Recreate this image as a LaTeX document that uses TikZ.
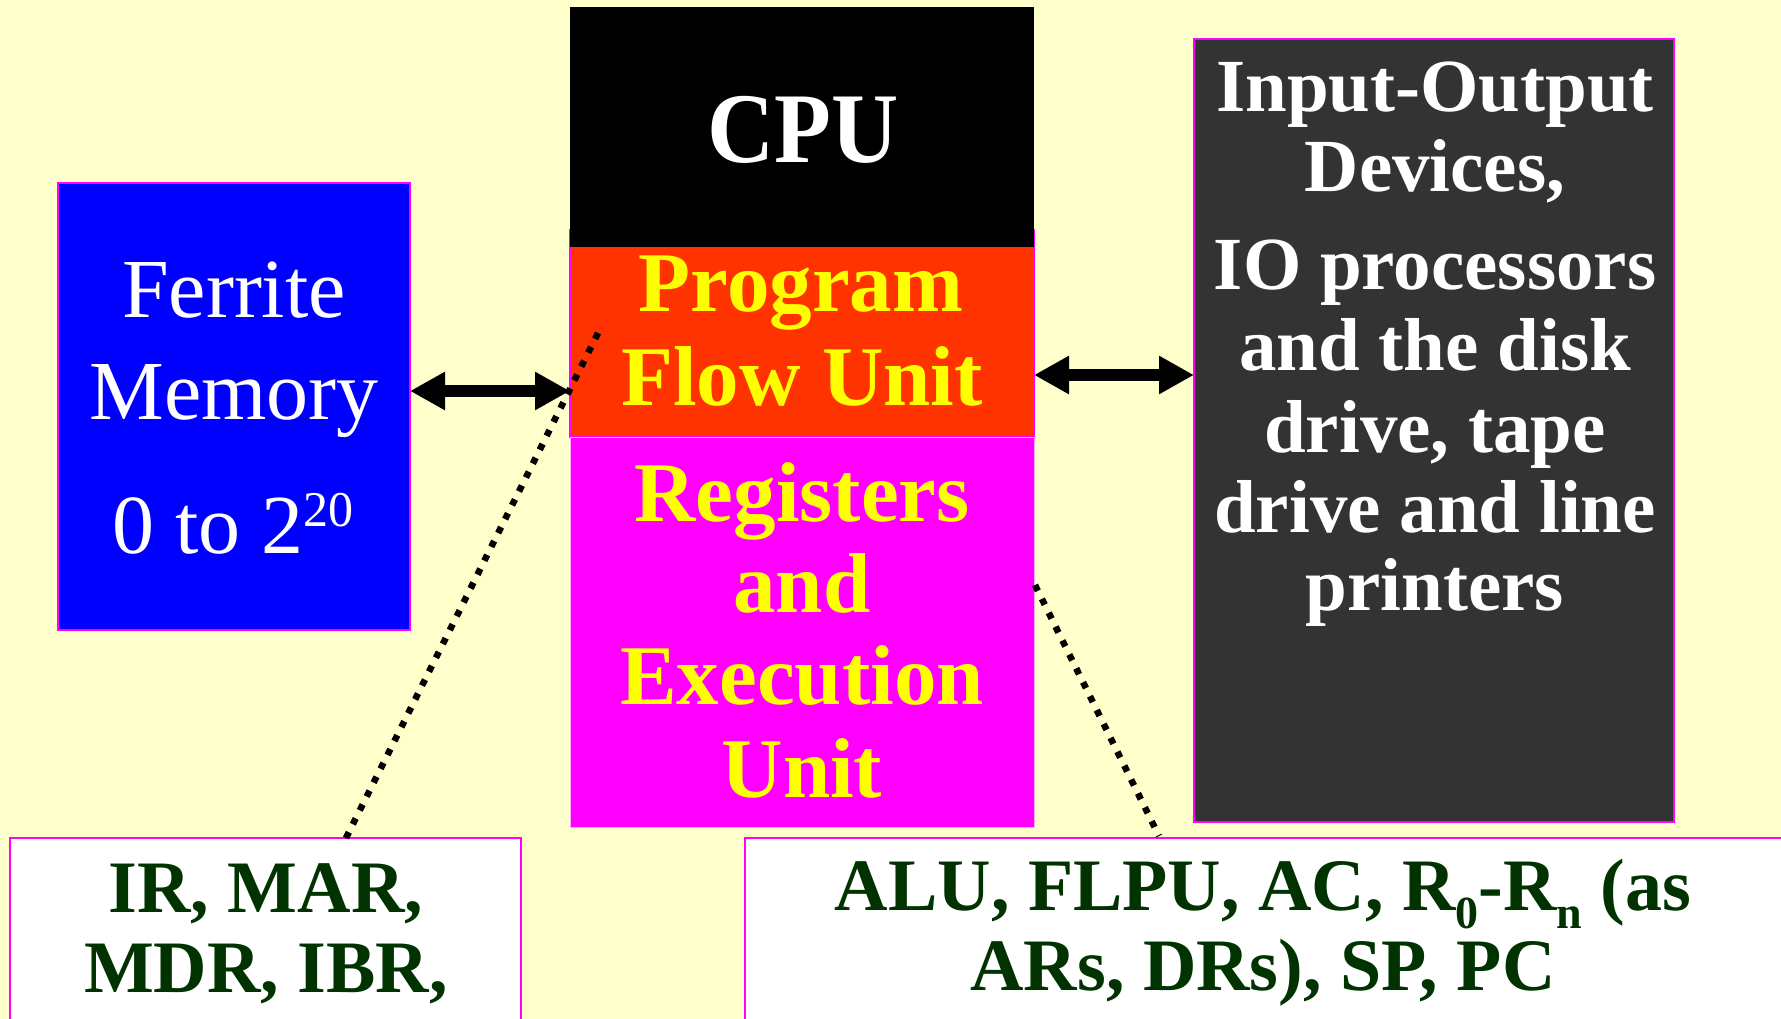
\documentclass[tikz,border=0pt]{standalone}
\usepackage{fontspec}
\setmainfont{Liberation Serif}
\newfontfamily\cpufont[FakeStretch=0.93]{Liberation Serif}
\usetikzlibrary{arrows.meta}
\definecolor{bgc}{HTML}{FFFFCC}
\definecolor{memblue}{HTML}{0000FF}
\definecolor{pfuorange}{HTML}{FF3300}
\definecolor{magent}{HTML}{FF00FF}
\definecolor{iogray}{HTML}{333333}
\definecolor{txtyellow}{HTML}{FFFF00}
\definecolor{dkgreen}{HTML}{003300}
\definecolor{lightpink}{HTML}{FFAAFF}
\newcommand\mysub[1]{\smash{\raisebox{-18pt}{\fontsize{46}{46}\selectfont #1}}}
\newcommand\mysup[1]{\raisebox{27pt}{\fontsize{50}{50}\selectfont #1}}
\begin{document}
\begin{tikzpicture}[x=1pt,y=-1pt,
  box/.style={rectangle, inner sep=0pt, outer sep=0pt},
  lbl/.style={anchor=base, inner sep=0pt, outer sep=0pt},
  memtxt/.style={lbl, text=white, font=\fontsize{84}{90}\selectfont},
  cputxt/.style={lbl, text=white, font=\cpufont\bfseries\fontsize{100}{100}\selectfont},
  unittxt/.style={lbl, text=txtyellow, font=\bfseries\fontsize{85}{90}\selectfont},
  iotxt/.style={lbl, text=white, font=\bfseries\fontsize{75}{80}\selectfont},
  regtxt/.style={lbl, text=dkgreen, font=\bfseries\fontsize{74}{80}\selectfont},
  biarrow/.style={line width=12pt, {Triangle[length=35pt,width=36pt]}-{Triangle[length=35pt,width=36pt]}},
  dotline/.style={line width=6.5pt, dash pattern=on 6.5pt off 9pt}
]
\clip (0,0) rectangle (1781,1019);
\fill[bgc] (0,0) rectangle (1781,1019);

% boxes
\node[box, fill=memblue, draw=magent, line width=2.5pt, minimum width=352pt, minimum height=447pt] (mem) at (234,406.5) {};
\node[box, fill=pfuorange, draw=magent, line width=1.5pt, minimum width=464pt, minimum height=207pt] (pfu) at (802,333.5) {};
\node[box, fill=magent, draw=lightpink, line width=1pt, minimum width=464pt, minimum height=390pt] (reu) at (802,632) {};
\node[box, fill=black, minimum width=464pt, minimum height=240pt] (cpu) at (802,127) {};
\node[box, fill=iogray, draw=magent, line width=2.5pt, minimum width=480pt, minimum height=783pt] (io) at (1434,430.5) {};
\node[box, fill=white, draw=magent, line width=2pt, minimum width=511pt, minimum height=202pt] (regl) at (265.5,939) {};
\node[box, fill=white, draw=magent, line width=2pt, minimum width=1055pt, minimum height=202pt] (regr) at (1272.5,939) {};

% texts
\node[cputxt] (tcpu) at (803,163) {CPU};
\node[memtxt] (tm1) at (234,317) {Ferrite};
\node[memtxt] (tm2) at (234,419) {Memory};
\node[memtxt] (tm3) at (233,553) {0 to 2\mysup{20}};
\node[unittxt] (tp1) at (801,312) {Program};
\node[unittxt] (tp2) at (802,405) {Flow Unit};
\node[unittxt] (tr1) at (802,521) {Registers};
\node[unittxt] (tr2) at (802,612) {and};
\node[unittxt] (tr3) at (802,704) {Execution};
\node[unittxt] (tr4) at (802,797) {Unit};
\node[iotxt] (ti1) at (1435,112) {Input-Output};
\node[iotxt] (ti2) at (1435,192) {Devices,};
\node[iotxt] (ti3) at (1435,290) {IO processors};
\node[iotxt] (ti4) at (1435,370) {and the disk};
\node[iotxt] (ti5) at (1435,452) {drive, tape};
\node[iotxt] (ti6) at (1435,532) {drive and line};
\node[iotxt] (ti7) at (1435,610) {printers};
\node[regtxt, align=center] (tl) at (266,992) {IR, MAR,\\MDR, IBR,};
\node[regtxt, align=center] (trr) at (1263,990) {ALU, FLPU, AC, R\mysub{0}-R\mysub{n} (as\\ARs, DRs), SP, PC};

% connectors
\coordinate (la) at (0,391);
\coordinate (ra) at (0,375);
\draw[biarrow] (mem.east |- la) -- (pfu.west |- la);
\draw[biarrow] (pfu.east |- ra) -- (io.west |- ra);

\coordinate (d1a) at (598,333);
\coordinate (d1b) at (346,838);
\coordinate (d2a) at (1035,585);
\coordinate (d2b) at (1159,836);
\draw[dotline] (d1a) -- (d1b);
\draw[dotline] (d2a) -- (d2b);
\end{tikzpicture}
\end{document}
